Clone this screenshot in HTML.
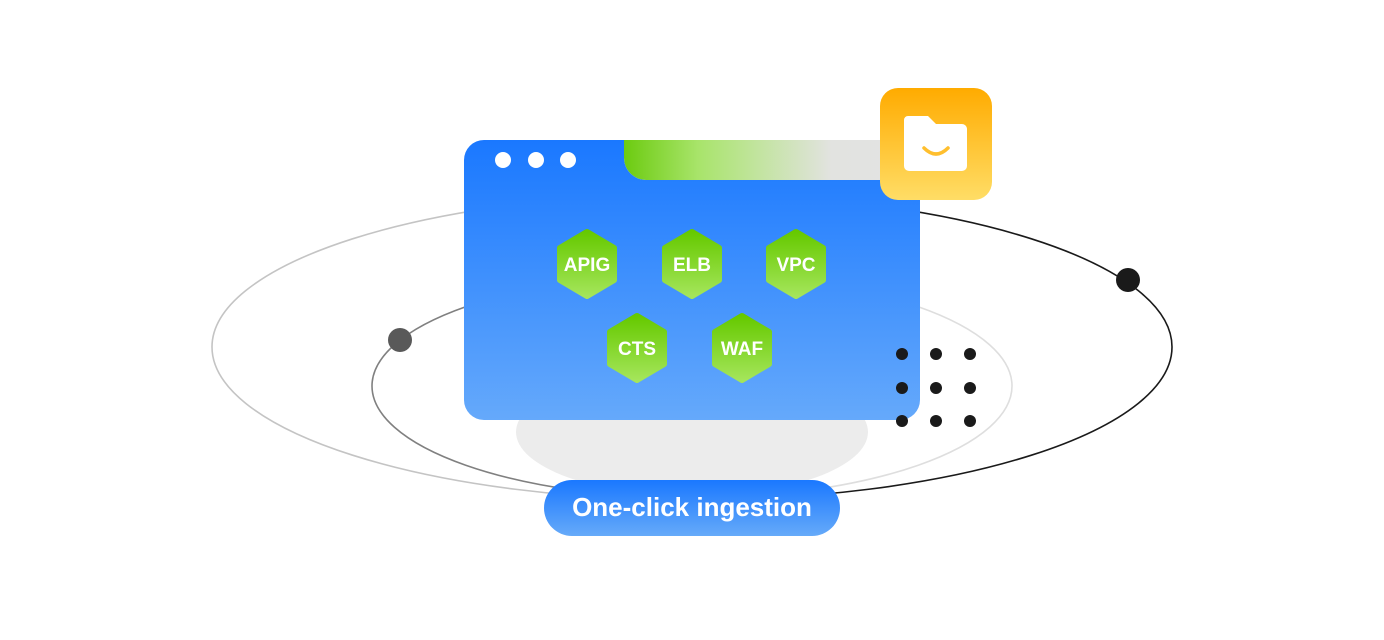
<!DOCTYPE html>
<html><head><meta charset="utf-8"><style>
html,body{margin:0;padding:0;background:#fff;width:1384px;height:640px;overflow:hidden}
svg{display:block}
text{font-family:"Liberation Sans","DejaVu Sans",sans-serif;font-weight:bold;fill:#fff}
</style></head><body>
<svg width="1384" height="640" viewBox="0 0 1384 640" xmlns="http://www.w3.org/2000/svg">
<defs>
<linearGradient id="win" x1="0" y1="0" x2="0" y2="1"><stop offset="0" stop-color="#1a78ff"/><stop offset="1" stop-color="#65a9fb"/></linearGradient>
<linearGradient id="tab" x1="0" y1="0" x2="1" y2="0"><stop offset="0" stop-color="#6ccb10"/><stop offset="0.25" stop-color="#a8e46a"/><stop offset="0.7" stop-color="#e2e3e0"/><stop offset="1" stop-color="#e3e3e3"/></linearGradient>
<linearGradient id="fold" x1="0" y1="0" x2="0" y2="1"><stop offset="0" stop-color="#ffab00"/><stop offset="1" stop-color="#ffdd66"/></linearGradient>
<linearGradient id="hex" x1="0" y1="0" x2="0" y2="1"><stop offset="0" stop-color="#66c900"/><stop offset="1" stop-color="#a4e55a"/></linearGradient>
<linearGradient id="pill" x1="0" y1="0" x2="0" y2="1"><stop offset="0" stop-color="#1a78ff"/><stop offset="1" stop-color="#66aaf9"/></linearGradient>
<clipPath id="L"><rect x="0" y="0" width="692" height="640"/></clipPath>
<clipPath id="R"><rect x="692" y="0" width="692" height="640"/></clipPath>
<path id="hx" d="M0,-32 L27,-16 L27,16 L0,32 L-27,16 L-27,-16 Z"/>
</defs>
<ellipse cx="692" cy="347" rx="480" ry="153" fill="none" stroke="#c4c4c4" stroke-width="1.6" clip-path="url(#L)"/>
<ellipse cx="692" cy="347" rx="480" ry="153" fill="none" stroke="#1a1a1a" stroke-width="1.6" clip-path="url(#R)"/>
<ellipse cx="692" cy="386" rx="320" ry="112" fill="none" stroke="#808080" stroke-width="1.6" clip-path="url(#L)"/>
<ellipse cx="692" cy="386" rx="320" ry="112" fill="none" stroke="#dedede" stroke-width="1.6" clip-path="url(#R)"/>
<circle cx="400" cy="340" r="12" fill="#595959"/>
<circle cx="1128" cy="280" r="12" fill="#1a1a1a"/>
<ellipse cx="692" cy="432" rx="176" ry="64" fill="#ececec"/>
<path d="M624,140 H920 V180 H646 A22,22 0 0 1 624,158 Z" fill="url(#tab)"/>
<path d="M484,140 H624 V158 A22,22 0 0 0 646,180 H920 V400 A20,20 0 0 1 900,420 H484 A20,20 0 0 1 464,400 V160 A20,20 0 0 1 484,140 Z" fill="url(#win)"/>
<circle cx="503" cy="160" r="8" fill="#fff"/>
<circle cx="536" cy="160" r="8" fill="#fff"/>
<circle cx="568" cy="160" r="8" fill="#fff"/>
<g stroke="url(#hex)" stroke-width="6" stroke-linejoin="round">
<use href="#hx" x="587" y="264" fill="url(#hex)"/>
<use href="#hx" x="692" y="264" fill="url(#hex)"/>
<use href="#hx" x="796" y="264" fill="url(#hex)"/>
<use href="#hx" x="637" y="348" fill="url(#hex)"/>
<use href="#hx" x="742" y="348" fill="url(#hex)"/>
</g>
<g font-size="19" text-anchor="middle">
<text x="587" y="271">APIG</text>
<text x="692" y="271">ELB</text>
<text x="796" y="271">VPC</text>
<text x="637" y="355">CTS</text>
<text x="742" y="355">WAF</text>
</g>
<rect x="880" y="88" width="112" height="112" rx="18" fill="url(#fold)"/>
<path d="M908,116 H928 L936,124 H962 A5,5 0 0 1 967,129 V166 A5,5 0 0 1 962,171 H909 A5,5 0 0 1 904,166 V120 A4,4 0 0 1 908,116 Z" fill="#fff"/>
<path d="M924,148 Q936,160 948,148" fill="none" stroke="#ffbf2e" stroke-width="3.5" stroke-linecap="round"/>
<g fill="#1a1a1a">
<circle cx="902" cy="354" r="6"/><circle cx="936" cy="354" r="6"/><circle cx="970" cy="354" r="6"/>
<circle cx="902" cy="388" r="6"/><circle cx="936" cy="388" r="6"/><circle cx="970" cy="388" r="6"/>
<circle cx="902" cy="421" r="6"/><circle cx="936" cy="421" r="6"/><circle cx="970" cy="421" r="6"/>
</g>
<rect x="544" y="480" width="296" height="56" rx="28" fill="url(#pill)"/>
<text x="692" y="516" font-size="26" text-anchor="middle">One-click ingestion</text>
</svg>
</body></html>
